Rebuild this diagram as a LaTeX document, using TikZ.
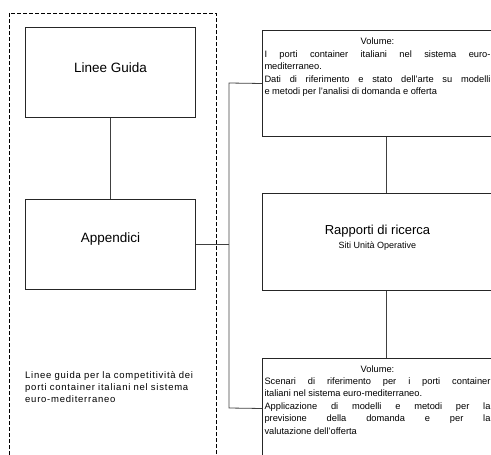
\documentclass[tikz,border=0pt]{standalone}
\usepackage{fontspec}
\setmainfont{Liberation Sans}
\newfontfamily\capfont[LetterSpace=8]{Liberation Sans}
\begin{document}
\begin{tikzpicture}[x=1pt,y=-1pt,
  box/.style={draw=black!85, line width=1pt, inner xsep=2pt, inner ysep=0pt},
  conn/.style={draw=black!75, line width=0.8pt},
  body/.style={font=\fontsize{9.3}{12.4}\selectfont},
  big/.style={font=\fontsize{13.5}{15}\selectfont}
]
\useasboundingbox (0,0) rectangle (491,455);
\clip (0,0) rectangle (491,455);
% dashed group frame
\draw[line width=0.9pt, dash pattern=on 4pt off 2pt] (9,13) rectangle (216,475);

\node[box, big, anchor=north west, minimum width=170pt, text height=45pt, text depth=45pt] (lg) at (25,27) {Linee Guida};
\node[box, big, anchor=north west, minimum width=170pt, text height=43pt, text depth=47pt] (ap) at (25,199) {Appendici};

\node[anchor=base west, text width=190pt, align=left, inner sep=0pt, font=\capfont\fontsize{9.5}{12.4}\selectfont] (cap) at (25,378)
  {Linee guida per la competitività dei\\ porti container italiani nel sistema\\ euro-mediterraneo};

\node[box, body, anchor=north west, text width=232pt, align=justify, text height=14.5pt, text depth=91.5pt] (v1) at (262,30)
  {\parbox[t]{226pt}{\makebox[226pt]{Volume:}\\ I porti container italiani nel sistema euro-\linebreak mediterraneo.\\ Dati di riferimento e stato dell'arte su modelli\linebreak e metodi per l'analisi di domanda e offerta}};

\node[box, anchor=north west, text width=232pt, align=justify, text height=41pt, text depth=56pt] (rr) at (262,193)
  {\parbox[t]{226pt}{\centering\fontsize{13}{13.5}\selectfont Rapporti di ricerca\\{\fontsize{9}{13.5}\selectfont Siti Unità Operative}}};

\node[box, body, anchor=north west, text width=232pt, align=justify, text height=13.5pt, text depth=86.5pt] (v2) at (262,358)
  {\parbox[t]{226pt}{\makebox[226pt]{Volume:}\\ Scenari di riferimento per i porti container\linebreak italiani nel sistema euro-mediterraneo.\\ Applicazione di modelli e metodi per la\linebreak previsione della domanda e per la\linebreak valutazione dell'offerta}};

\coordinate (bt) at (229,83);
\coordinate (bb) at (229,408);
\draw[conn] (lg.south) -- (ap.north);
\draw[conn] (ap.east) -- (ap.east -| bt);
\draw[conn] (v1.west) -- (bt) -- (bb) -- (v2.west);
\draw[conn] ([xshift=6pt]v1.south) -- ([xshift=6pt]rr.north);
\draw[conn] ([xshift=6pt]rr.south) -- ([xshift=6pt]v2.north);
\end{tikzpicture}
\end{document}
